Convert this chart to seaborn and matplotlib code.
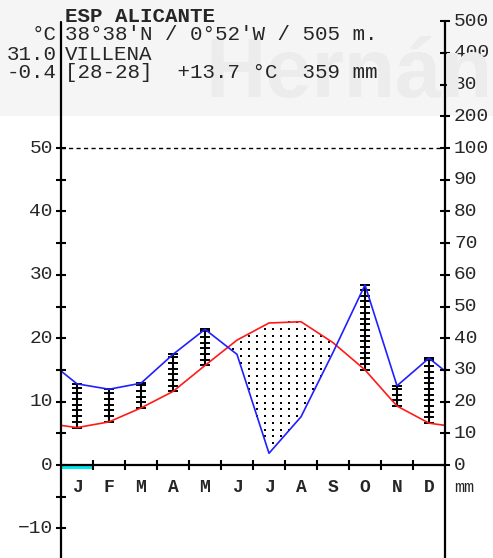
import numpy as np
import pandas as pd
import matplotlib
matplotlib.use("Agg")
import matplotlib.pyplot as plt
import seaborn as sns

# ---------------- data ----------------
months = ["J", "F", "M", "A", "M", "J", "J", "A", "S", "O", "N", "D"]
temp = [5.9, 6.8, 9.0, 11.6, 15.7, 19.7, 22.4, 22.6, 19.3, 15.0, 9.3, 6.6]      # °C
precip = [25.6, 23.9, 25.8, 34.9, 42.8, 34.9, 3.7, 15.2, 35.5, 56.8, 25.0, 33.7]  # mm
frost = [1, 0, 0, 0, 0, 0, 0, 0, 0, 0, 0, 0]   # probable frost months
temp_tick_labels = [-10, 0, 10, 20, 30, 40, 50]
temp_minor_ticks = [-10, -5, 0, 5, 10, 15, 20, 25, 30, 35, 40, 45, 50]
precip_tick_labels = [0, 10, 20, 30, 40, 50, 60, 70, 80, 90, 100, 200, 300, 400, 500]
header_title = "ESP ALICANTE"
header_coords = "38°38'N / 0°52'W / 505 m."
header_station = "VILLENA"
header_stats = "[28-28]  +13.7 °C  359 mm"
abs_max = "31.0"
abs_min = "-0.4"
watermark = "Hernández"

# ---------------- setup ----------------
sns.set_style("white")
plt.rcParams["font.family"] = ["Liberation Mono", "DejaVu Sans Mono"]

W, H = 493, 558
X0, X12 = 61, 445          # pixel x of Jan start / Dec end
Y0, Y50 = 465, 148         # pixel y of 0 °C / 50 °C
pxm = (X12 - X0) / 12.0
pxt = (Y0 - Y50) / 50.0

fig = plt.figure(figsize=(W / 100, H / 100), dpi=100)
ax = fig.add_axes([0, 0, 1, 1])
XL = (-X0 / pxm, (W - X0) / pxm)
YL = (-(H - Y0) / pxt, Y0 / pxt)


def pscale(p):
    p = np.asarray(p, dtype=float)
    return np.where(p <= 100, p / 2.0, 50 + (p - 100) / 20.0)


def fig_px(x, y):
    return x / W, 1 - y / H


# faint background band + watermark
ax.axhspan((Y0 - 116) / pxt, Y0 / pxt, color="#f5f5f5", zorder=0, lw=0)
fig.text(*fig_px(205, 97), watermark, family="Liberation Sans", weight="bold",
         fontsize=60, color="#ececec", ha="left", va="baseline", zorder=0)

# ---------------- curves ----------------
t = np.array(temp)
p = pscale(precip)
xc = np.arange(12) + 0.5
x_ext = np.concatenate([[0], xc, [12]])
t_ext = np.concatenate([[(t[-1] + t[0]) / 2], t, [(t[-1] + t[0]) / 2]])
p_ext = np.concatenate([[(p[-1] + p[0]) / 2], p, [(p[-1] + p[0]) / 2]])
df = pd.DataFrame({"x": x_ext, "temp": t_ext, "prec": p_ext})

# arid period (dotted): region between curves, filled with a dot grid
arid = ax.fill_between(df["x"], df["prec"], df["temp"], where=df["prec"] < df["temp"],
                       interpolate=True, facecolor="none", edgecolor="none",
                       linewidth=0, zorder=1)
gx, gy = np.meshgrid(np.arange(0, 12, 8 / pxm) + 4 / pxm,
                     np.arange(0, 50, 6.7 / pxt) + 2 / pxt)
pts = np.column_stack([gx.ravel(), gy.ravel()])
inside = np.zeros(len(pts), dtype=bool)
for path in arid.get_paths():
    inside |= path.contains_points(pts)
ax.scatter(pts[inside, 0], pts[inside, 1], s=1.6, marker="s", color="black",
           linewidths=0, zorder=1)

# humid hatching
for xi, ti, pi in zip(xc, t, p):
    if pi > ti:
        ax.plot([xi, xi], [ti, pi], color="black", lw=1.5, zorder=2)
        ys = np.append(np.arange(ti, pi, 0.9), pi)
        ax.plot([xi] * len(ys), ys, ls="none", marker="_", ms=6.5, mew=1.4,
                color="black", zorder=2)

sns.lineplot(data=df, x="x", y="temp", color="#ff1a1a", lw=1.2, ax=ax, zorder=3)
sns.lineplot(data=df, x="x", y="prec", color="#2020ff", lw=1.2, ax=ax, zorder=3)

# frost months
ax.bar(xc, [-0.65 * f for f in frost], bottom=0, width=1.0, color="#00e8f0",
       lw=0, zorder=2)

# ---------------- axes ----------------
ymin = YL[0]
top = float(pscale(500))
tk_x = 5 / pxm
tk_y = 5 / pxt
ax.plot([0, 0], [ymin, 69.9], color="black", lw=1.6, zorder=4)
ax.plot([12, 12], [ymin, top], color="black", lw=1.6, zorder=4)
ax.plot([0, 12], [0, 0], color="black", lw=1.6, zorder=4)
ax.hlines(temp_minor_ticks, -tk_x, tk_x, color="black", lw=1.5, zorder=4)
ax.hlines(pscale(precip_tick_labels), 12 - tk_x, 12 + tk_x, color="black", lw=1.5, zorder=4)
ax.vlines(np.arange(1, 12), -tk_y, tk_y, color="black", lw=1.5, zorder=4)
ax.hlines(50, 0, 12, color="black", lw=1.0, linestyles=(0, (3.0, 2.4)), zorder=4)

fs = 14
for v in temp_tick_labels:
    ax.text(-8 / pxm, v, str(v).replace("-", "\u2212"), ha="right", va="center", fontsize=fs)
for v in precip_tick_labels:
    ax.text(12 + 9 / pxm, float(pscale(v)), str(v), ha="left", va="center", fontsize=fs)
for xi, m in zip(xc, months):
    ax.text(xi, -22 / pxt, m, ha="center", va="center", fontsize=fs - 1, weight="bold")
ax.text(12 + 9 / pxm, -22 / pxt, "mm", ha="left", va="center", fontsize=fs - 2)

# ---------------- header ----------------
hs = 15
fig.text(*fig_px(65, 16), header_title, ha="left", va="center", fontsize=hs, weight="bold")
fig.text(*fig_px(57, 35), "°C", ha="right", va="center", fontsize=hs)
fig.text(*fig_px(65, 35), header_coords, ha="left", va="center", fontsize=hs)
fig.text(*fig_px(57, 54), abs_max, ha="right", va="center", fontsize=hs)
fig.text(*fig_px(65, 54), header_station, ha="left", va="center", fontsize=hs)
fig.text(*fig_px(57, 73), abs_min, ha="right", va="center", fontsize=hs)
fig.text(*fig_px(65, 73), header_stats, ha="left", va="center", fontsize=hs)

ax.set_xlim(*XL)
ax.set_ylim(*YL)
ax.axis("off")
fig.savefig("out.png", dpi=100)
